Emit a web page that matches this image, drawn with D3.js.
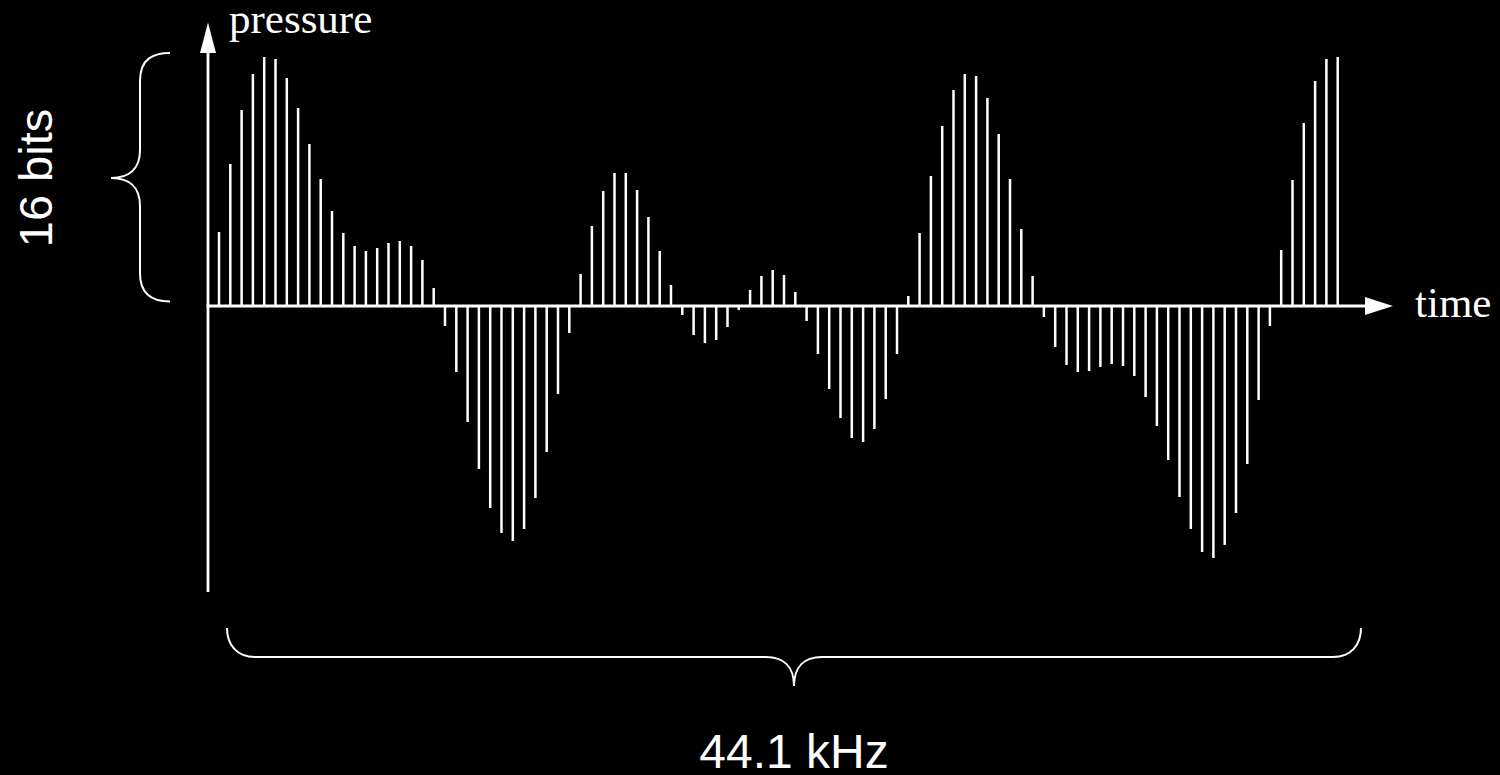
<!DOCTYPE html>
<html>
<head>
<meta charset="utf-8">
<script src="https://cdn.jsdelivr.net/npm/d3@7"></script>
<style>
  html, body { margin: 0; padding: 0; background: #000; }
  svg { display: block; }
</style>
</head>
<body>
<svg id="chart" width="1500" height="775"></svg>
<script>
// Sample index (time) and sampled pressure amplitude (arbitrary units)
const samples = d3.range(100);
const pressure = [
  74, 142, 196, 232, 249, 247, 228, 198, 162, 127,
  95, 73, 60, 55, 58, 63, 65, 60, 46, 18,
  -20, -66, -116, -163, -202, -227, -235, -223, -192, -146,
  -88, -27, 32, 80, 115, 133, 133, 116, 89, 55,
  21, -9, -29, -37, -34, -21, -4, 16, 30, 36,
  31, 14, -15, -48, -83, -112, -132, -136, -123, -93,
  -48, 10, 73, 130, 180, 216, 232, 230, 208, 172,
  127, 77, 30, -11, -41, -59, -66, -65, -61, -58,
  -60, -70, -91, -120, -154, -191, -223, -246, -252, -239,
  -207, -158, -94, -20, 56, 126, 183, 225, 247, 249
];
const yAxisLabel = "pressure";
const xAxisLabel = "time";
const bitsLabel = "16 bits";
const rateLabel = "44.1 kHz";

const svg = d3.select("#chart");
svg.append("rect").attr("width", 1500).attr("height", 775).attr("fill", "#000");

const x = d3.scaleLinear().domain([0, 99]).range([219, 1337.7]);
const y = d3.scaleLinear().domain([-300, 300]).range([606, 6]);
const axisX = 208;
const baseY = y(0);

// stems
svg.append("g").selectAll("line")
  .data(samples)
  .join("line")
  .attr("x1", i => x(i)).attr("x2", i => x(i))
  .attr("y1", baseY).attr("y2", i => y(pressure[i]))
  .attr("stroke", "#fff").attr("stroke-width", 2.5);

// y axis
svg.append("line")
  .attr("x1", axisX).attr("x2", axisX)
  .attr("y1", 592).attr("y2", 50)
  .attr("stroke", "#fff").attr("stroke-width", 2.8);
svg.append("path")
  .attr("d", `M${axisX},22.5 L${axisX - 8},53 L${axisX + 8},53 Z`)
  .attr("fill", "#fff");

// x axis
svg.append("line")
  .attr("x1", axisX - 1.4).attr("x2", 1368)
  .attr("y1", baseY).attr("y2", baseY)
  .attr("stroke", "#fff").attr("stroke-width", 2.8);
svg.append("path")
  .attr("d", `M1393,${baseY} L1365,${baseY - 9} L1365,${baseY + 9} Z`)
  .attr("fill", "#fff");

// axis labels
svg.append("text")
  .attr("x", 229).attr("y", 33)
  .attr("fill", "#fff")
  .attr("font-family", "'Liberation Serif', 'Times New Roman', serif")
  .attr("font-size", 43)
  .text(yAxisLabel);
svg.append("text")
  .attr("x", 1415).attr("y", 316.5)
  .attr("fill", "#fff")
  .attr("font-family", "'Liberation Serif', 'Times New Roman', serif")
  .attr("font-size", 43)
  .text(xAxisLabel);

// left brace (16 bits)
const r = 28;
svg.append("path")
  .attr("d", `M170,53 C154,53 140,58 140,${53 + r}
              L140,${178 - r} C140,170 128,178 111,178
              C128,178 140,186 140,${178 + r}
              L140,${301.5 - r} C140,296 154,301.5 170,301.5`)
  .attr("fill", "none").attr("stroke", "#fff").attr("stroke-width", 2);
svg.append("text")
  .attr("transform", "translate(51.5,178) rotate(-90)")
  .attr("text-anchor", "middle")
  .attr("fill", "#fff")
  .attr("font-family", "'Liberation Sans', Arial, sans-serif")
  .attr("font-size", 47)
  .text(bitsLabel);

// bottom brace (44.1 kHz)
const by = 657, bx0 = 227, bx1 = 1361, bm = 794;
svg.append("path")
  .attr("d", `M${bx0},628 C${bx0},645 ${bx0 + 10},${by} ${bx0 + r},${by}
              L${bm - r},${by} C${bm - 10},${by} ${bm},${by + 10} ${bm},686
              C${bm},${by + 10} ${bm + 10},${by} ${bm + r},${by}
              L${bx1 - r},${by} C${bx1 - 10},${by} ${bx1},645 ${bx1},628`)
  .attr("fill", "none").attr("stroke", "#fff").attr("stroke-width", 2);
svg.append("text")
  .attr("x", 794).attr("y", 767.5)
  .attr("text-anchor", "middle")
  .attr("fill", "#fff")
  .attr("font-family", "'Liberation Sans', Arial, sans-serif")
  .attr("font-size", 48)
  .text(rateLabel);
</script>
</body>
</html>
